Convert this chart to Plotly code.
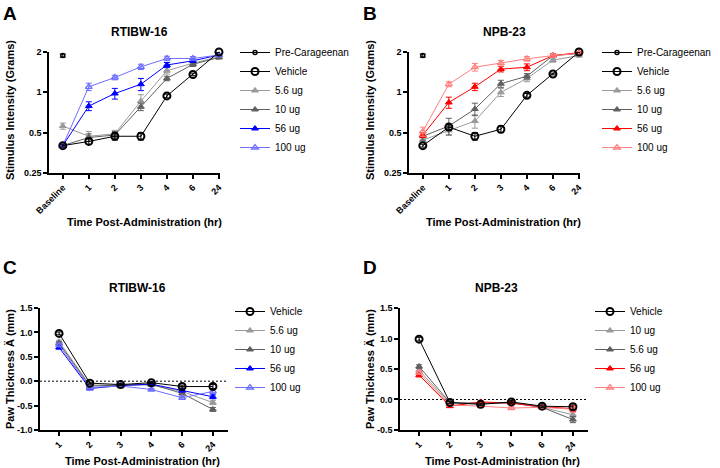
import math
import plotly.graph_objects as go

W, H = 720, 468

# ---------------- data ----------------
times_ab = ["Baseline", "1", "2", "3", "4", "6", "24"]
times_cd = ["1", "2", "3", "4", "6", "24"]
ticks_log = [0.25, 0.5, 1, 2]
ticks_log_text = ["0.25", "0.5", "1", "2"]
ticks_c = [-1.0, -0.5, 0.0, 0.5, 1.0, 1.5]
ticks_d = [-0.5, 0.0, 0.5, 1.0, 1.5]

# Panel A (RTIBW-16, von Frey, grams)
a_pre = [1.88]
a_pre_err = [0.05]
a_vehicle = [0.40, 0.43, 0.47, 0.47, 0.94, 1.36, 2.00]
a_vehicle_err = [0.01, 0.02, 0.03, 0.03, 0.03, 0.03, 0.02]
a_5_6 = [0.56, 0.47, 0.49, 0.86, 1.45, 1.65, 1.84]
a_5_6_err = [0.03, 0.04, 0.03, 0.10, 0.08, 0.06, 0.05]
a_10 = [0.40, 0.46, 0.48, 0.78, 1.27, 1.62, 1.82]
a_10_err = [0.01, 0.03, 0.03, 0.05, 0.05, 0.06, 0.05]
a_56 = [0.40, 0.79, 0.98, 1.15, 1.60, 1.72, 1.90]
a_56_err = [0.01, 0.06, 0.09, 0.12, 0.07, 0.05, 0.03]
a_100 = [0.40, 1.10, 1.29, 1.55, 1.79, 1.79, 1.90]
a_100_err = [0.01, 0.07, 0.05, 0.07, 0.07, 0.06, 0.03]

# Panel B (NPB-23)
b_pre = [1.88]
b_pre_err = [0.05]
b_vehicle = [0.40, 0.55, 0.47, 0.53, 0.95, 1.37, 2.00]
b_vehicle_err = [0.01, 0.03, 0.03, 0.03, 0.03, 0.02, 0.02]
b_5_6 = [0.44, 0.52, 0.61, 1.00, 1.27, 1.74, 1.88]
b_5_6_err = [0.02, 0.04, 0.07, 0.07, 0.07, 0.06, 0.04]
b_10 = [0.47, 0.56, 0.75, 1.16, 1.32, 1.88, 1.95]
b_10_err = [0.03, 0.08, 0.08, 0.07, 0.06, 0.06, 0.04]
b_56 = [0.48, 0.84, 1.10, 1.49, 1.54, 1.88, 1.98]
b_56_err = [0.02, 0.08, 0.07, 0.07, 0.09, 0.05, 0.03]
b_100 = [0.51, 1.15, 1.54, 1.65, 1.78, 1.88, 1.95]
b_100_err = [0.04, 0.05, 0.10, 0.08, 0.07, 0.05, 0.04]

# Panel C (RTIBW-16, paw thickness change, mm)
c_vehicle = [0.98, -0.04, -0.07, -0.03, -0.11, -0.11]
c_5_6 = [0.81, -0.08, -0.08, -0.08, -0.21, -0.44]
c_10 = [0.78, -0.10, -0.08, -0.06, -0.25, -0.58]
c_56 = [0.69, -0.15, -0.09, -0.06, -0.19, -0.32]
c_100 = [0.74, -0.13, -0.10, -0.17, -0.34, -0.21]
c_err = [0.03, 0.02, 0.02, 0.02, 0.03, 0.04]

# Panel D (NPB-23)
d_vehicle = [0.99, -0.05, -0.08, -0.04, -0.11, -0.12]
d_10 = [0.48, -0.07, -0.07, -0.06, -0.13, -0.25]
d_5_6 = [0.54, -0.05, -0.06, -0.05, -0.13, -0.33]
d_56 = [0.40, -0.11, -0.04, -0.06, -0.12, -0.15]
d_100 = [0.44, -0.09, -0.11, -0.14, -0.13, -0.16]
d_err = [0.03, 0.02, 0.02, 0.02, 0.02, 0.05]

# ---------------- styles ----------------
BLACK = "#000000"
LGRAY = "#9a9a9a"
DGRAY = "#606060"
BLUE = "#0000ff"
LBLUE = "#6f6fff"
RED = "#ff0000"
LRED = "#ff8080"
FONT = "Liberation Sans, Arial, sans-serif"


def px2x(px):
    return px / W


def px2y(py):
    return 1 - py / H


fig = go.Figure()


def add(x, y, err, name, color, symbol, size, xa, ya, legend, rank,
        lw=1.0, mlw=1.0):
    fig.add_trace(go.Scatter(
        x=x, y=y, name=name, mode="lines+markers",
        xaxis=xa, yaxis=ya, legend=legend, legendrank=rank,
        line=dict(color=color, width=lw),
        marker=dict(symbol=symbol, size=size, color=color,
                    line=dict(color=color, width=mlw)),
        error_y=dict(type="data", array=err, visible=True, color=color,
                     thickness=1, width=3),
        cliponaxis=False,
    ))


# Panel A
add(times_ab, a_5_6, a_5_6_err, "5.6 ug", LGRAY, "triangle-up", 6, "x", "y", "legend", 3)
add(times_ab, a_10, a_10_err, "10 ug", DGRAY, "triangle-up", 6, "x", "y", "legend", 4)
add(times_ab, a_56, a_56_err, "56 ug", BLUE, "triangle-up", 6, "x", "y", "legend", 5)
add(times_ab, a_100, a_100_err, "100 ug", LBLUE, "triangle-up-open", 6, "x", "y", "legend", 6, mlw=1.3)
add(times_ab, a_vehicle, a_vehicle_err, "Vehicle", BLACK, "circle-open", 7, "x", "y", "legend", 2, mlw=2)
add(times_ab[:1], a_pre, a_pre_err, "Pre-Carageenan", BLACK, "circle-open", 4, "x", "y", "legend", 1, mlw=1.5)

# Panel B
add(times_ab, b_5_6, b_5_6_err, "5.6 ug", LGRAY, "triangle-up", 6, "x2", "y2", "legend2", 3)
add(times_ab, b_10, b_10_err, "10 ug", DGRAY, "triangle-up", 6, "x2", "y2", "legend2", 4)
add(times_ab, b_56, b_56_err, "56 ug", RED, "triangle-up", 6, "x2", "y2", "legend2", 5)
add(times_ab, b_100, b_100_err, "100 ug", LRED, "triangle-up-open", 6, "x2", "y2", "legend2", 6, mlw=1.3)
add(times_ab, b_vehicle, b_vehicle_err, "Vehicle", BLACK, "circle-open", 7, "x2", "y2", "legend2", 2, mlw=2)
add(times_ab[:1], b_pre, b_pre_err, "Pre-Carageenan", BLACK, "circle-open", 4, "x2", "y2", "legend2", 1, mlw=1.5)

# Panel C
add(times_cd, c_5_6, c_err, "5.6 ug", LGRAY, "triangle-up", 6, "x3", "y3", "legend3", 2)
add(times_cd, c_10, c_err, "10 ug", DGRAY, "triangle-up", 6, "x3", "y3", "legend3", 3)
add(times_cd, c_56, c_err, "56 ug", BLUE, "triangle-up", 6, "x3", "y3", "legend3", 4)
add(times_cd, c_100, c_err, "100 ug", LBLUE, "triangle-up-open", 6, "x3", "y3", "legend3", 5, mlw=1.3)
add(times_cd, c_vehicle, c_err, "Vehicle", BLACK, "circle-open", 7, "x3", "y3", "legend3", 1, mlw=2)

# Panel D
add(times_cd, d_10, d_err, "10 ug", LGRAY, "triangle-up", 6, "x4", "y4", "legend4", 2)
add(times_cd, d_5_6, d_err, "5.6 ug", DGRAY, "triangle-up", 6, "x4", "y4", "legend4", 3)
add(times_cd, d_56, d_err, "56 ug", RED, "triangle-up", 6, "x4", "y4", "legend4", 4)
add(times_cd, d_100, d_err, "100 ug", LRED, "triangle-up-open", 6, "x4", "y4", "legend4", 5, mlw=1.3)
add(times_cd, d_vehicle, d_err, "Vehicle", BLACK, "circle-open", 7, "x4", "y4", "legend4", 1, mlw=2)

tickfont = dict(family=FONT, size=9, color=BLACK, weight="bold")
axis_common = dict(showline=True, linecolor=BLACK, linewidth=1.5, ticks="outside",
                   ticklen=4, tickwidth=1.5, tickcolor=BLACK, showgrid=False,
                   zeroline=False, tickfont=tickfont, fixedrange=True, automargin=False)


def xaxis(x0, x1, cats, rng, anchor):
    return dict(domain=[px2x(x0), px2x(x1)], type="category", categoryorder="array",
                categoryarray=cats, range=rng, tickangle=-45, anchor=anchor, **axis_common)


def yaxis_log(y_top, y_bot, anchor):
    return dict(domain=[px2y(y_bot), px2y(y_top)], type="log",
                range=[math.log10(0.25) - 1e-4, math.log10(2) + 1e-4],
                tickmode="array", tickvals=ticks_log, ticktext=ticks_log_text,
                anchor=anchor, **axis_common)


def yaxis_lin(y_top_px, y_bot_px, tv, anchor):
    return dict(domain=[px2y(y_bot_px), px2y(y_top_px)], range=[tv[0] - 1e-3, tv[-1] + 1e-3],
                tickmode="array", tickvals=tv, ticktext=[f"{v:.1f}" for v in tv],
                ticklabeloverflow="allow", anchor=anchor, **axis_common)


fig.update_layout(
    xaxis=xaxis(49, 220, times_ab, [-0.53, 6.04], "y"),
    yaxis=yaxis_log(52, 173, "x"),
    xaxis2=xaxis(409, 580, times_ab, [-0.53, 6.04], "y2"),
    yaxis2=yaxis_log(52, 173, "x2"),
    xaxis3=xaxis(40, 228, times_cd, [-0.62, 5.49], "y3"),
    yaxis3=yaxis_lin(308, 430, ticks_c, "x3"),
    xaxis4=xaxis(400, 588, times_cd, [-0.62, 5.49], "y4"),
    yaxis4=yaxis_lin(308, 430, ticks_d, "x4"),
)

leg_common = dict(font=dict(family=FONT, size=10, color=BLACK), bgcolor="rgba(0,0,0,0)",
                  xanchor="left", yanchor="top", tracegroupgap=0, itemclick=False,
                  itemdoubleclick=False)
fig.update_layout(
    legend=dict(x=px2x(235), y=px2y(38), **leg_common),
    legend2=dict(x=px2x(597), y=px2y(38), **leg_common),
    legend3=dict(x=px2x(230), y=px2y(297), **leg_common),
    legend4=dict(x=px2x(590), y=px2y(297), **leg_common),
)

# dotted zero lines
for xa in ("x3", "x4"):
    ya = "y" + xa[1:]
    fig.add_shape(type="line", xref=f"{xa} domain", yref=ya, x0=0, x1=1, y0=0, y1=0,
                  line=dict(color=BLACK, width=1, dash="2px,2px"), layer="below")

ann = []


def text(x, y, s, size, bold=True, angle=0):
    ann.append(dict(x=px2x(x), y=px2y(y), xref="paper", yref="paper", text=s,
                    showarrow=False, textangle=angle, xanchor="center", yanchor="middle",
                    font=dict(family=FONT, size=size, color=BLACK,
                              weight="bold" if bold else "normal")))


# Panel letters
text(10, 13, "A", 19)
text(370, 13, "B", 19)
text(10, 267, "C", 19)
text(370, 267, "D", 19)
# Titles
text(139.5, 32, "RTIBW-16", 12)
text(505, 32, "NPB-23", 12)
text(137, 288, "RTIBW-16", 12)
text(496, 288, "NPB-23", 12)
# Axis titles
text(10, 110, "Stimulus Intensity (Grams)", 11, angle=-90)
text(370, 110, "Stimulus Intensity (Grams)", 11, angle=-90)
text(144.5, 222, "Time Post-Administration (hr)", 11)
text(504, 222, "Time Post-Administration (hr)", 11)
text(10, 369, "Paw Thickness Ä (mm)", 11, angle=-90)
text(370, 369, "Paw Thickness Ä (mm)", 11, angle=-90)
text(142, 461, "Time Post-Administration (hr)", 11)
text(502, 461, "Time Post-Administration (hr)", 11)

fig.update_layout(
    annotations=ann,
    width=W, height=H,
    margin=dict(l=0, r=0, t=0, b=0),
    paper_bgcolor="white", plot_bgcolor="white",
    font=dict(family=FONT, color=BLACK),
)

fig.write_html("out.html")
